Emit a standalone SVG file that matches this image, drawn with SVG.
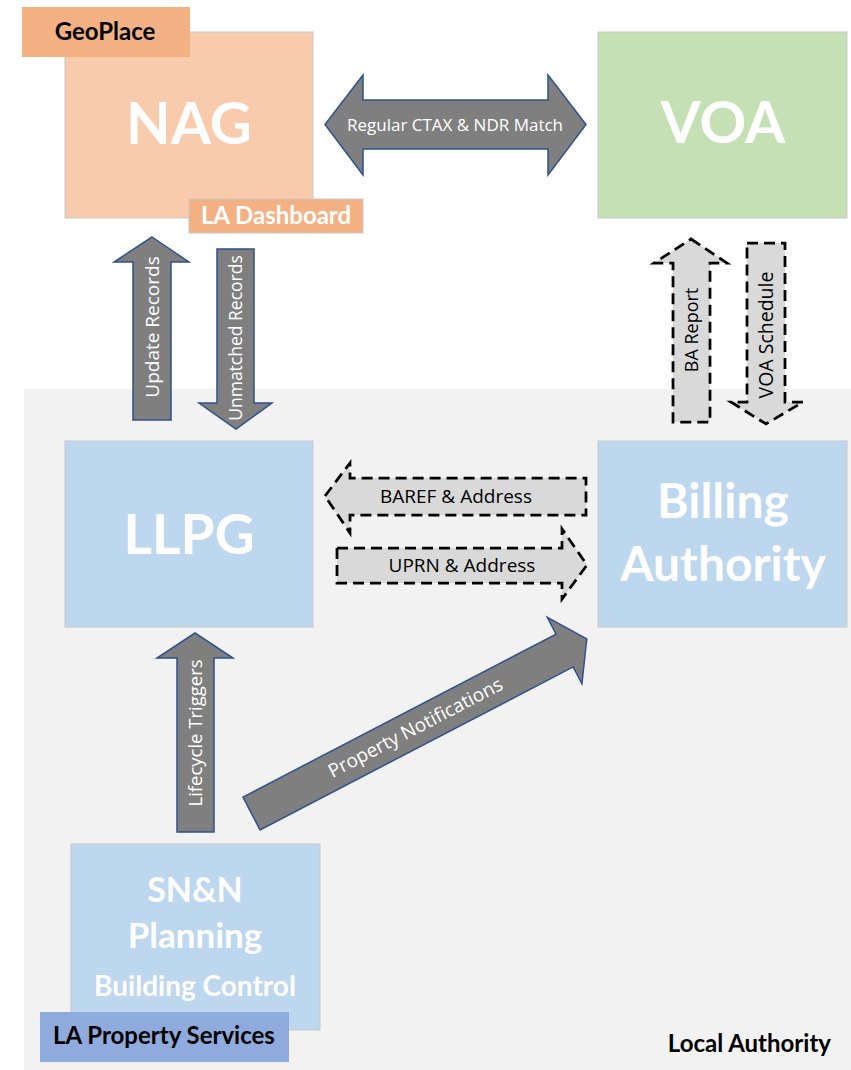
<svg xmlns="http://www.w3.org/2000/svg" width="851" height="1070" viewBox="0 0 851 1070">
<style>
.box{stroke:#C8C8C8;stroke-width:1}
.title{font-family:Lato,"Open Sans",sans-serif;font-weight:700;text-anchor:middle}
.w{fill:#FFFFFF}
.k{fill:#000000}
.solid{fill:#7F7F7F;stroke:#2F528F;stroke-width:1.5;stroke-linejoin:miter}
.dash{fill:#D9D9D9;stroke:#000000;stroke-width:2.75;stroke-dasharray:11 6}
.lbl{font-family:"Open Sans","DejaVu Sans",sans-serif;text-anchor:middle}
</style>
<rect x="0" y="0" width="851" height="1070" fill="#FFFFFF"/>
<g id="local-authority">
<rect x="24" y="389" width="827" height="681" fill="#F2F2F2"/>
<text class="title k" x="831" y="1052" font-size="24" style="text-anchor:end">Local Authority</text>
</g>
<g id="nag">
<rect class="box" x="65" y="32" width="248" height="186" fill="#F8CBAD"/>
<text class="title w" x="189" y="144" font-size="58">NAG</text>
</g>
<g id="geoplace">
<rect x="22" y="7" width="168" height="50" fill="#F4B183"/>
<text class="title k" x="105" y="40" font-size="24">GeoPlace</text>
</g>
<g id="la-dashboard">
<rect class="box" x="189" y="199" width="174" height="34" fill="#F4B183"/>
<text class="title w" x="276" y="224" font-size="24">LA Dashboard</text>
</g>
<g id="voa">
<rect class="box" x="598" y="32" width="249" height="186" fill="#C5E0B4"/>
<text class="title w" x="723" y="143" font-size="58">VOA</text>
</g>
<g id="llpg">
<rect class="box" x="65" y="441" width="248" height="186" fill="#BDD7EE"/>
<text class="title w" x="189" y="554" font-size="55">LLPG</text>
</g>
<g id="billing-authority">
<rect class="box" x="598" y="441" width="249" height="186" fill="#BDD7EE"/>
<text class="title w" x="723" y="518" font-size="48">Billing</text>
<text class="title w" x="723" y="581" font-size="48">Authority</text>
</g>
<g id="snn-planning">
<rect class="box" x="71" y="844" width="249" height="186" fill="#BDD7EE"/>
<text class="title w" x="195" y="902" font-size="34">SN&amp;N</text>
<text class="title w" x="195" y="948" font-size="35">Planning</text>
<text class="title w" x="195" y="996" font-size="28">Building Control</text>
</g>
<g id="la-property-services">
<rect x="40" y="1012" width="249" height="50" fill="#8FAADC"/>
<text class="title k" x="164" y="1044" font-size="24">LA Property Services</text>
</g>
<g id="connectors">
<g id="regular-match">
<path class="solid" d="M325,124.5 L363,75 L363,100 L548,100 L548,75 L586,124.5 L548,175 L548,149 L363,149 L363,175 Z"/>
<text class="lbl w" x="455" y="131" font-size="17">Regular CTAX &amp; NDR Match</text>
</g>
<g id="update-records">
<path class="solid" d="M152,237 L189,262 L171,262 L171,420 L133,420 L133,262 L114,262 Z"/>
<text class="lbl w" transform="translate(159,327) rotate(-90)" font-size="19">Update  Records</text>
</g>
<g id="unmatched-records">
<path class="solid" d="M217,249 L254,249 L254,403 L272,403 L236,429 L199,403 L217,403 Z"/>
<text class="lbl w" transform="translate(242,338) rotate(-90)" font-size="17.5">Unmatched Records</text>
</g>
<g id="ba-report">
<path class="dash" d="M691,239 L727,263 L710,263 L710,422 L673,422 L673,263 L654,263 Z"/>
<text class="lbl k" transform="translate(698,330) rotate(-90)" font-size="18">BA Report</text>
</g>
<g id="voa-schedule">
<path class="dash" d="M747,243 L785,243 L785,402 L803,402 L766,424 L731,402 L747,402 Z"/>
<text class="lbl k" transform="translate(773,335) rotate(-90)" font-size="19.5">VOA Schedule</text>
</g>
<g id="baref-address">
<path class="dash" d="M325,496 L350,463 L350,478 L586,478 L586,515 L350,515 L350,533 Z"/>
<text class="lbl k" x="456" y="503" font-size="19">BAREF &amp; Address</text>
</g>
<g id="uprn-address">
<path class="dash" d="M337,548 L562,548 L562,529 L587,565 L562,599 L562,583 L337,583 Z"/>
<text class="lbl k" x="462" y="572" font-size="19">UPRN &amp; Address</text>
</g>
<g id="lifecycle-triggers">
<path class="solid" d="M195,633 L233,658 L214,658 L214,832 L177,832 L177,658 L157,658 Z"/>
<text class="lbl w" transform="translate(202,733) rotate(-90)" font-size="18.5">Lifecycle Triggers</text>
</g>
<g id="property-notifications" transform="translate(251.5,813.5) rotate(-27.5)">
<path class="solid" d="M0,-18.5 L353,-18.5 L353,-37.5 L378,0 L353,37.5 L353,18.5 L0,18.5 Z"/>
<text class="lbl w" x="185" y="6" font-size="19">Property Notifications</text>
</g>
</g>
</svg>
